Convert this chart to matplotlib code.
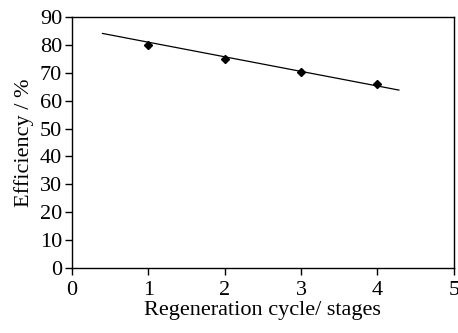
import matplotlib.pyplot as plt

# regeneration efficiency per cycle
cycles = [1, 2, 3, 4]
efficiency = [79.9, 75.1, 70.3, 65.8]

# trend line endpoints
trend_x = [0.4, 4.28]
trend_y = [84.1, 63.8]

plt.rcParams['font.family'] = ['Liberation Serif', 'DejaVu Serif']

fig = plt.figure(figsize=(4.58, 3.33), dpi=100)
ax = fig.add_axes([0.157, 0.195, 0.834, 0.754])

ax.plot(trend_x, trend_y, color='black', linewidth=0.9)
ax.plot(cycles, efficiency, linestyle='none', marker='D', markersize=4, color='black')

ax.set_xlim(0, 5)
ax.set_ylim(0, 90)
ax.set_xticks(range(0, 6))
ax.set_yticks(range(0, 91, 10))
ax.tick_params(direction='out', length=5, width=1, labelsize=16, pad=2)
ax.tick_params(axis='x', pad=4)
for s in ax.spines.values():
    s.set_linewidth(1)

ax.set_xlabel('Regeneration cycle/ stages', fontsize=16, labelpad=1)
ax.set_ylabel('Efficiency / %', fontsize=16, labelpad=4)

fig.savefig('out.png', dpi=100)
